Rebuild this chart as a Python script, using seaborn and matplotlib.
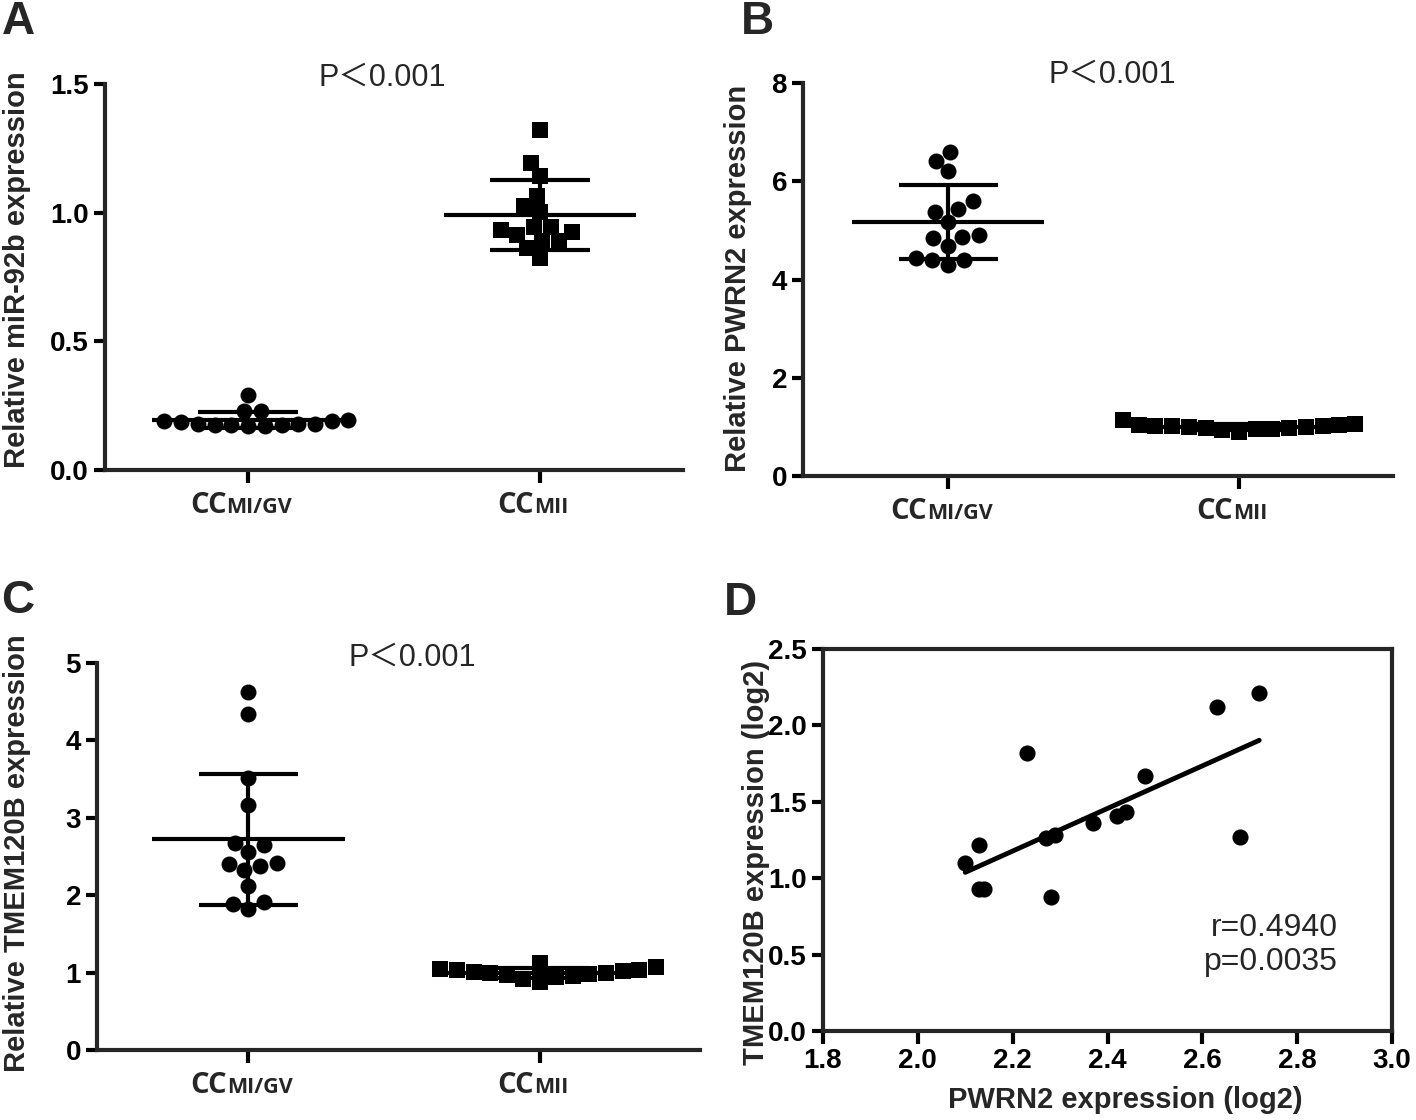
import numpy as np
import pandas as pd
import matplotlib
matplotlib.use("Agg")
import matplotlib.pyplot as plt
import seaborn as sns
from matplotlib.offsetbox import TextArea, HPacker, AnnotationBbox

# 数据
groups = ["GV", "MII"]
group_main = ["CC", "CC"]
group_sub = ["MI/GV", "MII"]

mir92b_gv = [0.29, 0.23, 0.23, 0.195, 0.19, 0.185, 0.18, 0.18, 0.175, 0.175,
             0.17, 0.17, 0.175, 0.18, 0.19]
mir92b_mii = [1.323, 1.193, 1.141, 1.064, 1.025, 1.003, 0.943, 0.943, 0.934,
              0.925, 0.914, 0.888, 0.888, 0.863, 0.824]

pwrn2_gv = [6.59, 6.42, 6.20, 5.60, 5.44, 5.37, 5.18, 4.91, 4.87, 4.84,
            4.69, 4.43, 4.40, 4.40, 4.30]
pwrn2_mii = [1.15, 1.06, 1.04, 1.02, 1.01, 1.00, 0.98, 0.96, 0.93, 0.90,
             0.95, 0.97, 0.99, 1.01, 1.03]

tmem_gv = [4.62, 4.34, 3.52, 3.17, 2.68, 2.65, 2.56, 2.42, 2.40, 2.38,
           2.32, 2.12, 1.91, 1.89, 1.82]
tmem_mii = [1.13, 1.07, 1.05, 1.03, 1.02, 1.00, 0.98, 0.95, 0.92, 0.88,
            0.94, 0.97, 0.99, 1.01, 1.04]

corr_x = [2.72, 2.63, 2.23, 2.48, 2.44, 2.42, 2.37, 2.29, 2.27, 2.13,
          2.10, 2.13, 2.14, 2.28, 2.68]
corr_y = [2.21, 2.12, 1.82, 1.67, 1.43, 1.41, 1.36, 1.28, 1.26, 1.22,
          1.10, 0.93, 0.93, 0.875, 1.27]

sns.set_style("ticks")
plt.rcParams['font.family'] = ['Liberation Sans', 'Noto Sans CJK SC', 'DejaVu Sans']
plt.rcParams['axes.linewidth'] = 3
plt.rcParams['xtick.major.width'] = 3
plt.rcParams['ytick.major.width'] = 3
plt.rcParams['xtick.major.size'] = 9
plt.rcParams['ytick.major.size'] = 8
plt.rcParams['xtick.color'] = 'black'
plt.rcParams['ytick.color'] = 'black'

W, H = 1416, 1120
fig = plt.figure(figsize=(W / 100, H / 100), dpi=100)

TICK_FS = 20
LABEL_FS = 21


def box(l, r, b, t):
    return [l / W, 1 - b / H, (r - l) / W, (b - t) / H]


def dot_panel(ax, gv, mii, ymax, yticks, fmt, gv_marker='o', mii_marker='s'):
    df1 = pd.DataFrame({'group': groups[0], 'value': gv})
    df2 = pd.DataFrame({'group': groups[1], 'value': mii})
    sns.swarmplot(data=df1, x='group', y='value', order=groups, ax=ax,
                  color='black', marker=gv_marker, size=11.5, linewidth=0, zorder=3)
    sns.swarmplot(data=df2, x='group', y='value', order=groups, ax=ax,
                  color='black', marker=mii_marker, size=11.5, linewidth=0, zorder=3)
    # 平均値 ± SD
    for i, vals in enumerate([gv, mii]):
        m = np.mean(vals)
        s = np.std(vals, ddof=1)
        ax.hlines(m, i - 0.33, i + 0.33, color='black', lw=3, zorder=4)
        ax.hlines([m - s, m + s], i - 0.17, i + 0.17, color='black', lw=3, zorder=4)
        ax.vlines(i, m - s, m + s, color='black', lw=3, zorder=4)
    ax.set_ylim(0, ymax)
    ax.set_yticks(yticks)
    ax.set_yticklabels([fmt.format(v) for v in yticks], fontsize=TICK_FS, fontweight='bold')
    ax.set_xticks([0, 1])
    ax.set_xticklabels(['', ''])
    ax.set_xlabel('')
    ax.set_ylabel('')
    sns.despine(ax=ax)
    for i in range(2):
        t1 = TextArea(group_main[i], textprops=dict(fontsize=21, fontweight='bold', family='Open Sans'))
        t2 = TextArea(group_sub[i], textprops=dict(fontsize=15.5, fontweight='bold', family='Open Sans'))
        pack = HPacker(children=[t1, t2], align='baseline', pad=0, sep=0)
        ab = AnnotationBbox(pack, (i, 0), xycoords=('data', 'axes fraction'),
                            xybox=(-5, -15), boxcoords='offset points',
                            box_alignment=(0.5, 1), frameon=False, pad=0,
                            annotation_clip=False)
        ax.add_artist(ab)


# A
axA = fig.add_axes(box(105, 683, 470, 84))
dot_panel(axA, mir92b_gv, mir92b_mii, 1.5, [0, 0.5, 1.0, 1.5], '{:.1f}')
axA.set_xlim(-0.49, 1.49)
fig.text(382 / W, 1 - 78 / H, 'P＜0.001', ha='center', va='center', fontsize=22)
fig.text(17 / W, 1 - 270 / H, 'Relative miR-92b expression', rotation=90,
         ha='center', va='center', fontsize=LABEL_FS, fontweight='bold')

# B
axB = fig.add_axes(box(803, 1393, 476, 83))
dot_panel(axB, pwrn2_gv, pwrn2_mii, 8, [0, 2, 4, 6, 8], '{:d}')
axB.set_xlim(-0.5, 1.53)
fig.text(1112 / W, 1 - 75 / H, 'P＜0.001', ha='center', va='center', fontsize=22)
fig.text(738 / W, 1 - 278 / H, 'Relative PWRN2 expression', rotation=90,
         ha='center', va='center', fontsize=LABEL_FS, fontweight='bold')

# C
axC = fig.add_axes(box(97, 700, 1050, 663))
dot_panel(axC, tmem_gv, tmem_mii, 5, [0, 1, 2, 3, 4, 5], '{:d}')
axC.set_xlim(-0.52, 1.55)
fig.text(412 / W, 1 - 658 / H, 'P＜0.001', ha='center', va='center', fontsize=22)
fig.text(17 / W, 1 - 853 / H, 'Relative TMEM120B expression', rotation=90,
         ha='center', va='center', fontsize=LABEL_FS, fontweight='bold')

# D
axD = fig.add_axes(box(823, 1392, 1031, 649))
sns.regplot(x=corr_x, y=corr_y, ax=axD, ci=None, color='black',
            scatter_kws={'s': 135, 'linewidths': 0, 'alpha': 1},
            line_kws={'lw': 3.5, 'color': 'black'})
axD.set_xlim(1.8, 3.0)
axD.set_ylim(0, 2.5)
xt = [1.8, 2.0, 2.2, 2.4, 2.6, 2.8, 3.0]
yt = [0.0, 0.5, 1.0, 1.5, 2.0, 2.5]
axD.set_xticks(xt)
axD.set_xticklabels([f'{v:.1f}' for v in xt], fontsize=TICK_FS, fontweight='bold')
axD.set_yticks(yt)
axD.set_yticklabels([f'{v:.1f}' for v in yt], fontsize=TICK_FS, fontweight='bold')
axD.text(0.905, 0.225, 'r=0.4940\np=0.0035', transform=axD.transAxes,
         ha='right', va='center', fontsize=23, linespacing=1.15)
fig.text(1125 / W, 1 - 1100 / H, 'PWRN2 expression (log2)',
         ha='center', va='center', fontsize=LABEL_FS, fontweight='bold')
fig.text(756 / W, 1 - 862 / H, 'TMEM120B expression (log2)', rotation=90,
         ha='center', va='center', fontsize=LABEL_FS, fontweight='bold')

# panel letters
for letter, (px, py) in zip('ABCD', [(18, 22), (757, 22), (18, 601), (740, 603)]):
    fig.text(px / W, 1 - py / H, letter, ha='center', va='center',
             fontsize=33, fontweight='bold')

plt.savefig('out.png', dpi=100)
